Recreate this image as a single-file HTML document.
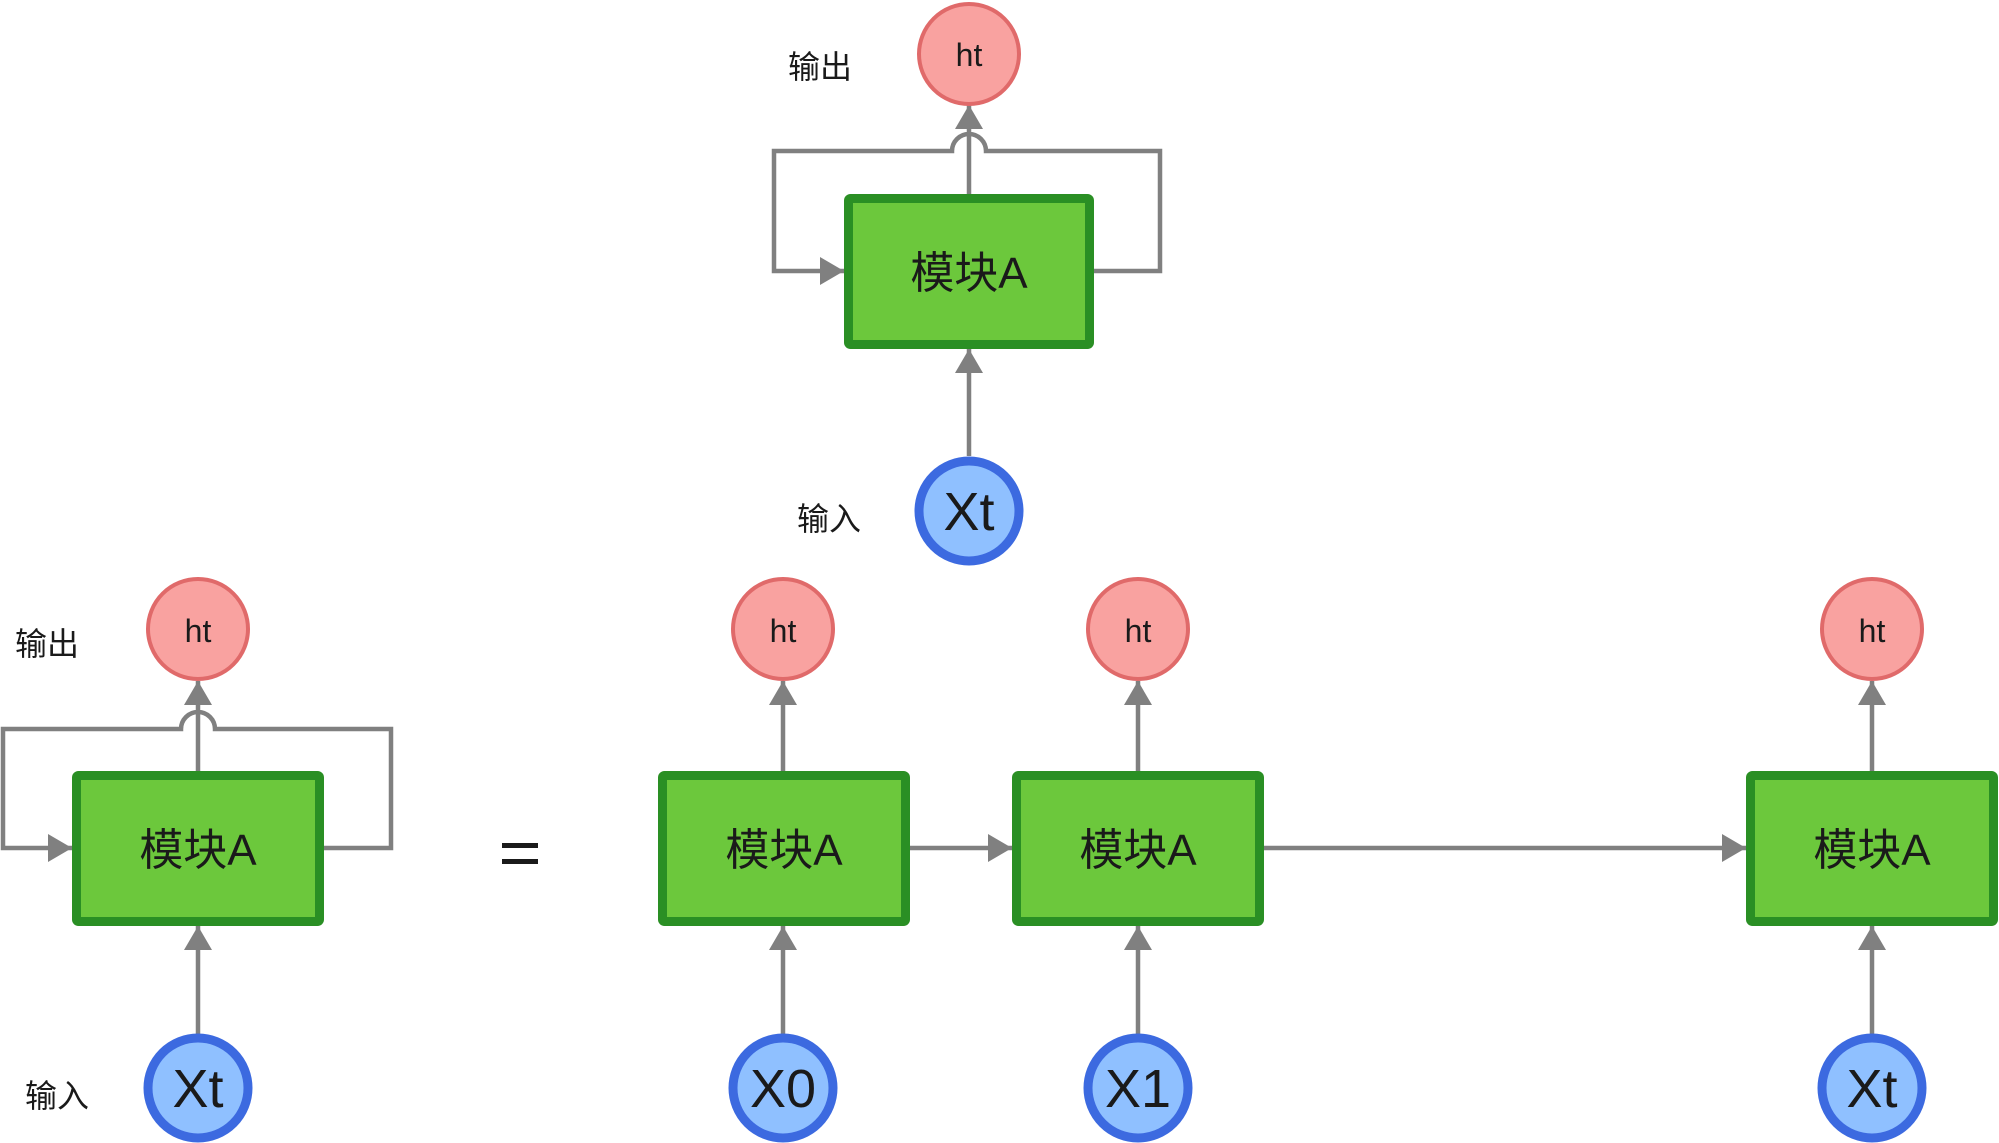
<!DOCTYPE html>
<html><head><meta charset="utf-8"><style>
html,body{margin:0;padding:0;background:#fff;}
svg{display:block;}
text{font-family:"Liberation Sans","Noto Sans CJK SC",sans-serif;fill:#1a1a1a;}
</style></head><body>
<svg width="1999" height="1143" viewBox="0 0 1999 1143" xmlns="http://www.w3.org/2000/svg">
<defs>
<marker id="ar" markerWidth="28" markerHeight="28" refX="24" refY="14" orient="auto" markerUnits="userSpaceOnUse">
<path d="M0,0 L24,14 L0,28 Z" fill="#808080"/>
</marker>
</defs>
<g stroke="#808080" stroke-width="4.5" fill="none">
<line x1="969" y1="195" x2="969" y2="105" marker-end="url(#ar)"/>
<line x1="969" y1="456" x2="969" y2="349" marker-end="url(#ar)"/>
<path d="M1094,271 H1160 V151 H986 A14,14 0 0 0 952,151 H774 V271 H844" marker-end="url(#ar)"/>
<line x1="198" y1="771" x2="198" y2="681" marker-end="url(#ar)"/>
<line x1="198" y1="1034" x2="198" y2="926" marker-end="url(#ar)"/>
<path d="M324,848 H391 V729 H215 A14,14 0 0 0 181,729 H3 V848 H72" marker-end="url(#ar)"/>
<line x1="783" y1="771" x2="783" y2="681" marker-end="url(#ar)"/>
<line x1="783" y1="1034" x2="783" y2="926" marker-end="url(#ar)"/>
<line x1="1138" y1="771" x2="1138" y2="681" marker-end="url(#ar)"/>
<line x1="1138" y1="1034" x2="1138" y2="926" marker-end="url(#ar)"/>
<line x1="1872" y1="771" x2="1872" y2="681" marker-end="url(#ar)"/>
<line x1="1872" y1="1034" x2="1872" y2="926" marker-end="url(#ar)"/>
<line x1="910" y1="848" x2="1012" y2="848" marker-end="url(#ar)"/>
<line x1="1264" y1="848" x2="1746" y2="848" marker-end="url(#ar)"/>
</g>
<g fill="#6cc83c" stroke="#2a8f24" stroke-width="9">
<rect x="848.5" y="198.5" width="241" height="146" rx="2"/>
<rect x="76.5" y="775.5" width="243" height="146" rx="2"/>
<rect x="662.5" y="775.5" width="243" height="146" rx="2"/>
<rect x="1016.5" y="775.5" width="243" height="146" rx="2"/>
<rect x="1750.5" y="775.5" width="243" height="146" rx="2"/>
</g>
<g font-size="44" text-anchor="middle">
<text x="969" y="288">模块A</text>
<text x="198" y="865">模块A</text>
<text x="784" y="865">模块A</text>
<text x="1138" y="865">模块A</text>
<text x="1872" y="865">模块A</text>
</g>
<g fill="#f9a2a0" stroke="#e06a6a" stroke-width="4">
<circle cx="969" cy="54" r="50"/>
<circle cx="198" cy="629" r="50"/>
<circle cx="783" cy="629" r="50"/>
<circle cx="1138" cy="629" r="50"/>
<circle cx="1872" cy="629" r="50"/>
</g>
<g font-size="32" text-anchor="middle">
<text x="969" y="66">ht</text>
<text x="198" y="642">ht</text>
<text x="783" y="642">ht</text>
<text x="1138" y="642">ht</text>
<text x="1872" y="642">ht</text>
</g>
<g fill="#8fc0ff" stroke="#3c6ae0" stroke-width="9">
<circle cx="969" cy="511" r="50"/>
<circle cx="198" cy="1088" r="50"/>
<circle cx="783" cy="1088" r="50"/>
<circle cx="1138" cy="1088" r="50"/>
<circle cx="1872" cy="1088" r="50"/>
</g>
<g font-size="54" text-anchor="middle">
<text x="969" y="530">Xt</text>
<text x="198" y="1107">Xt</text>
<text x="783" y="1107">X0</text>
<text x="1138" y="1107">X1</text>
<text x="1872" y="1107">Xt</text>
</g>
<g font-size="32">
<text x="788" y="78">输出</text>
<text x="797" y="530">输入</text>
<text x="15" y="655">输出</text>
<text x="25" y="1107">输入</text>
</g>
<rect x="502" y="843" width="36" height="5" fill="#1a1a1a"/>
<rect x="502" y="859" width="36" height="5" fill="#1a1a1a"/>
</svg>
</body></html>
